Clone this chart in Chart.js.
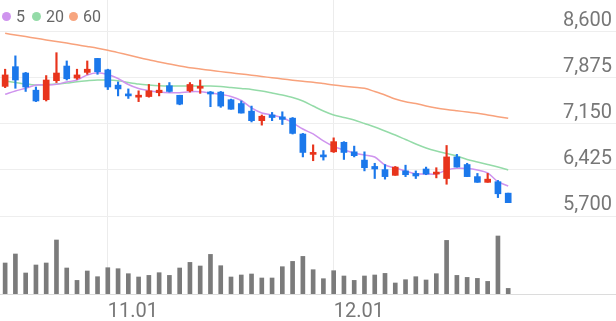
<!DOCTYPE html>
<html>
<head>
<meta charset="utf-8">
<script src="https://cdn.jsdelivr.net/npm/chart.js@4.4.0/dist/chart.umd.min.js"></script>
<style>
  body { margin: 0; background: #fff; }
  #wrap { position: relative; width: 616px; height: 321px; }
  .lg { position: absolute; top: 6px; height: 20px; line-height: 20px; font: 16px Roboto, sans-serif; color: #666; display: flex; align-items: center; }
  .lg i { display: inline-block; width: 9px; height: 9px; border-radius: 50%; margin-right: 5px; }
</style>
</head>
<body>
<div id="wrap">
  <canvas id="c" width="616" height="321"></canvas>
  <div class="lg" style="left:2px"><i style="background:#cf94ee"></i>5</div>
  <div class="lg" style="left:32px"><i style="background:#94dba8"></i>20</div>
  <div class="lg" style="left:69px"><i style="background:#f7a57f"></i>60</div>
</div>
<script>
// trading days shown on the chart
var dates = ['10.18', '10.19', '10.20', '10.23', '10.24', '10.25', '10.26', '10.27', '10.30', '10.31',
  '11.01', '11.02', '11.03', '11.06', '11.07', '11.08', '11.09', '11.10', '11.13', '11.14', '11.15',
  '11.16', '11.17', '11.20', '11.21', '11.22', '11.23', '11.24', '11.27', '11.28', '11.29', '11.30',
  '12.01', '12.04', '12.05', '12.06', '12.07', '12.08', '12.11', '12.12', '12.13', '12.14', '12.15',
  '12.18', '12.19', '12.20', '12.21', '12.22', '12.26', '12.27'];

var open  = [7740, 8050, 7950, 7680, 7530, 7830, 8060, 7870, 7960, 8180,
             8000, 7760, 7620, 7570, 7580, 7640, 7750, 7600, 7670, 7710,
             7640, 7650, 7530, 7470, 7350, 7200, 7290, 7260, 7240, 6990,
             6670, 6660, 6710, 6860, 6710, 6580, 6480, 6430, 6340, 6410,
             6370, 6440, 6360, 6290, 6630, 6510, 6320, 6230, 6240, 6060];
var close = [7920, 7840, 7730, 7510, 7840, 7950, 7860, 7920, 8010, 7970,
             7730, 7700, 7590, 7590, 7670, 7680, 7660, 7460, 7770, 7730,
             7620, 7430, 7380, 7320, 7200, 7270, 7250, 7220, 7000, 6700,
             6700, 6630, 6870, 6700, 6650, 6460, 6440, 6320, 6470, 6350,
             6330, 6360, 6390, 6630, 6470, 6320, 6230, 6280, 6050, 5910];
var high  = [8010, 8220, 7960, 7730, 7910, 8270, 8140, 8010, 8140, 8180,
             8010, 7810, 7700, 7670, 7770, 7790, 7800, 7600, 7800, 7840,
             7660, 7660, 7540, 7510, 7430, 7290, 7330, 7340, 7250, 7000,
             6820, 6730, 6930, 6870, 6800, 6710, 6530, 6510, 6480, 6500,
             6410, 6470, 6460, 6810, 6670, 6530, 6370, 6370, 6260, 6060];
var low   = [7720, 7710, 7660, 7500, 7510, 7800, 7840, 7850, 7930, 7930,
             7690, 7590, 7550, 7500, 7570, 7590, 7650, 7450, 7650, 7630,
             7420, 7410, 7380, 7320, 7180, 7130, 7200, 7140, 6990, 6630,
             6570, 6580, 6700, 6590, 6630, 6410, 6290, 6280, 6340, 6320,
             6290, 6350, 6300, 6200, 6470, 6320, 6230, 6230, 5990, 5910];

var volume = [310000, 400000, 210000, 290000, 310000, 540000, 260000, 136000, 230000, 173000,
              263000, 253000, 203000, 170000, 186000, 213000, 186000, 260000, 316000, 280000,
              396000, 283000, 170000, 190000, 200000, 160000, 160000, 273000, 326000, 376000,
              243000, 153000, 233000, 180000, 136000, 180000, 190000, 206000, 110000, 143000,
              173000, 140000, 203000, 536000, 186000, 166000, 156000, 126000, 580000, 56000];

var ma5  = [7615, 7667, 7710, 7762, 7762, 7773, 7809, 7840, 7919, 7955,
            7927, 7864, 7769, 7706, 7672, 7651, 7640, 7640, 7656, 7656,
            7636, 7612, 7581, 7518, 7400, 7321, 7290, 7250, 7169, 7069,
            6991, 6881, 6794, 6739, 6692, 6660, 6629, 6503, 6456, 6409,
            6362, 6362, 6362, 6425, 6451, 6448, 6425, 6377, 6240, 6173];
var ma20 = [7825, 7801, 7777, 7762, 7769, 7777, 7793, 7813, 7828, 7840,
            7840, 7828, 7801, 7777, 7762, 7751, 7746, 7746, 7746, 7746,
            7746, 7738, 7722, 7706, 7691, 7667, 7636, 7604, 7565, 7510,
            7431, 7353, 7290, 7250, 7211, 7156, 7101, 7038, 6975, 6904,
            6833, 6771, 6723, 6684, 6645, 6590, 6550, 6511, 6472, 6425];
var ma60 = [8575, 8548, 8523, 8498, 8471, 8446, 8421, 8394, 8367, 8339,
            8307, 8271, 8233, 8194, 8158, 8123, 8092, 8060, 8032, 8013,
            7993, 7972, 7953, 7935, 7916, 7895, 7876, 7856, 7837, 7820,
            7806, 7785, 7762, 7743, 7727, 7710, 7659, 7604, 7541, 7497,
            7471, 7431, 7400, 7376, 7356, 7337, 7316, 7290, 7263, 7238];

var priceTicks = [5700, 6425, 7150, 7875, 8600];

var UP = '#e8341c', DOWN = '#1b78eb';
var candleColors = close.map(function (c, i) { return c >= open[i] ? UP : DOWN; });
// empty slots on the right leave room for the price labels
var labels = dates.concat(new Array(10).fill(''));

Chart.defaults.font.family = 'Roboto';

new Chart(document.getElementById('c'), {
    type: 'bar',
    data: {
        labels: labels,
        datasets: [
            { type: 'line', label: '5', data: ma5, borderColor: '#cf94ee', borderWidth: 1.5,
              pointRadius: 0, tension: 0.3, yAxisID: 'y', order: 3 },
            { type: 'line', label: '20', data: ma20, borderColor: '#94dba8', borderWidth: 1.5,
              pointRadius: 0, tension: 0.3, yAxisID: 'y', order: 3 },
            { type: 'line', label: '60', data: ma60, borderColor: '#f8a27c', borderWidth: 1.5,
              pointRadius: 0, tension: 0.3, yAxisID: 'y', order: 3 },
            { label: 'wick', data: high.map(function (h, i) { return [low[i], h]; }),
              backgroundColor: candleColors, barThickness: 1.5, grouped: false, yAxisID: 'y', order: 2 },
            { label: 'body', data: open.map(function (o, i) { return [o, close[i]]; }),
              backgroundColor: candleColors, barThickness: 6, minBarLength: 2, grouped: false, yAxisID: 'y', order: 1 },
            { label: 'volume', data: volume, backgroundColor: '#7b7b7b', barThickness: 4,
              grouped: false, yAxisID: 'yv', order: 4 }
        ]
    },
    options: {
        responsive: false,
        animation: false,
        devicePixelRatio: 1,
        layout: { padding: 0 },
        plugins: { legend: { display: false }, tooltip: { enabled: false } },
        scales: {
            x: {
                offset: true,
                grid: {
                    offset: false,
                    drawTicks: false,
                    color: function (ctx) { return ctx.tick && ctx.tick.label ? '#ececec' : 'rgba(0,0,0,0)'; }
                },
                border: { color: '#dcdcdc' },
                ticks: {
                    autoSkip: false, maxRotation: 0, align: 'start', padding: 6, color: '#777', font: { size: 20 },
                    callback: function (v, i) { return dates[i] && dates[i].slice(-3) === '.01' ? dates[i] : ''; }
                },
                afterFit: function (s) { s.height = 27; s.paddingLeft = 0; s.paddingRight = 0; }
            },
            y: {
                position: 'right',
                min: 4473,
                max: 9099,
                afterBuildTicks: function (s) { s.ticks = priceTicks.map(function (v) { return { value: v }; }); },
                grid: { color: '#eeeeee', drawTicks: false },
                border: { display: false },
                ticks: {
                    mirror: true, padding: -4, labelOffset: -11, color: '#777', font: { size: 20 },
                    callback: function (v) { return v.toLocaleString('en-US'); }
                },
                afterFit: function (s) { s.width = 0; s.paddingTop = 0; s.paddingBottom = 0; }
            },
            yv: { display: false, min: 0, max: 2940000 }
        }
    }
});
</script>
</body>
</html>
